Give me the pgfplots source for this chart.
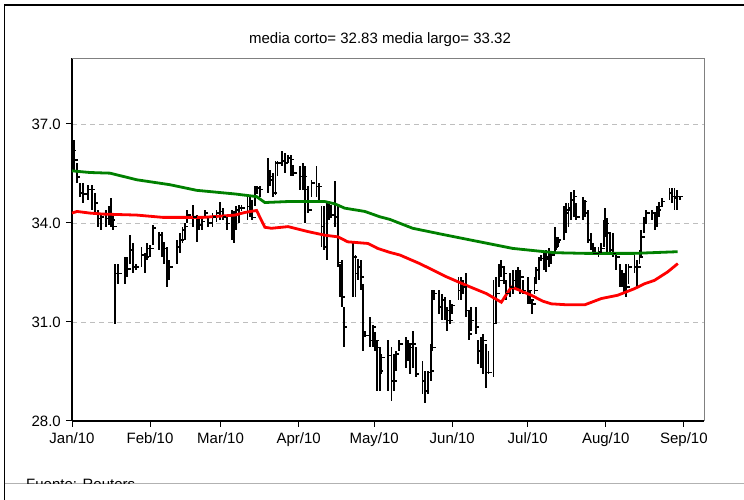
\documentclass[border=0pt]{standalone}
\usepackage{fontspec}
\setmainfont{Liberation Sans}
\usepackage{pgfplots}
\pgfplotsset{compat=1.18}
\usepackage{pgfplotstable}
\definecolor{magreen}{RGB}{0,128,0}
\definecolor{gridgray}{RGB}{190,190,190}
\pgfdeclareplotmark{closetick}{\pgfpathmoveto{\pgfpointorigin}\pgfpathlineto{\pgfpoint{3.5pt}{0pt}}\pgfusepathqstroke}

\pgfplotstableread{
d h l c
0.3 36.43 35.82 36.2
0.8 36.53 35.61 35.9
1.85 35.82 35.21 35.4
3.2 35.21 34.80 34.9
4.5 35.21 34.60 34.88
6.5 35.16 34.70 35.01
7.8 35.16 34.40 35.01
9.1 34.90 34.30 34.6
10.4 34.40 33.89 34.14
11.4 34.30 33.79 34.19
13.5 34.40 33.89 34.14
14.8 34.50 33.94 34.2
15.6 34.75 33.89 34.09
16.4 34.24 33.79 33.89
17.1 32.77 30.95 32.47
18.4 32.77 32.16 32.47
21.0 32.97 32.16 32.67
22.0 32.97 32.37 32.6
23.0 33.64 32.77 33.18
24.1 33.38 32.47 32.67
25.4 32.77 32.57 32.67
27.6 33.28 32.67 33.03
29.0 33.08 32.47 32.97
29.9 33.38 32.87 33.23
31.0 33.33 32.97 33.23
32.0 33.94 33.33 33.84
34.7 33.74 33.18 33.64
35.6 33.74 32.97 33.33
36.6 33.43 32.77 33.23
37.6 33.28 32.06 32.47
38.6 32.87 32.26 32.67
41.8 33.48 32.77 33.28
42.9 33.69 33.08 33.48
43.9 33.89 33.38 33.79
44.8 33.99 33.48 33.89
45.8 34.40 33.99 34.24
48.2 34.55 33.89 34.19
49.5 34.24 33.43 34.09
50.5 34.19 33.79 33.94
51.5 34.19 33.79 34.04
52.8 34.40 34.14 34.30
54.1 34.14 33.89 34.0
55.8 34.30 33.89 34.19
57.4 34.40 34.04 34.30
58.7 34.65 34.09 34.35
59.8 34.45 34.09 34.19
61.4 34.19 33.79 33.99
63.4 34.40 33.48 33.79
64.3 34.35 33.38 33.9
65.3 34.50 33.79 34.40
66.2 34.55 33.99 34.45
67.3 34.55 34.35 34.45
69.7 34.80 34.09 34.50
70.6 34.80 34.19 34.65
71.6 34.70 34.09 34.17
72.6 35.11 34.50 34.90
73.5 35.11 34.90 35.06
74.6 35.11 34.80 35.01
77.9 35.97 34.90 35.41
78.8 35.61 35.11 35.31
79.9 35.51 34.80 34.90
80.8 35.87 34.85 35.82
81.6 35.87 35.41 35.82
83.5 36.17 35.72 35.87
84.5 36.12 35.51 35.82
85.8 36.07 35.82 35.97
86.9 36.07 35.41 35.92
87.8 35.77 35.41 35.51
90.5 35.72 35.01 35.41
91.8 35.82 35.01 35.41
92.7 35.72 33.99 35.01
93.8 35.11 34.30 34.40
95.1 35.31 34.80 35.21
97.1 35.72 34.80 35.11
98.0 35.21 34.60 35.11
99.1 34.50 33.28 33.89
100.1 34.50 33.18 33.28
101.1 34.60 32.87 34.19
102.0 34.60 34.09 34.19
103.0 34.55 34.14 34.24
104.6 35.26 33.89 34.19
105.5 34.50 32.67 32.80
106.4 32.77 31.76 32.67
107.1 32.87 31.45 31.76
107.9 31.45 30.23 30.84
111.6 33.38 31.76 32.97
112.6 33.03 31.76 32.47
113.6 32.92 32.26 32.67
114.6 32.87 31.96 32.37
115.6 32.16 30.13 30.59
116.5 30.74 30.54 30.59
118.5 31.15 30.23 30.44
119.5 30.90 30.23 30.84
120.5 30.69 30.13 30.44
121.3 30.44 28.91 30.23
122.2 30.23 28.91 29.52
122.9 30.03 29.42 29.93
125.5 30.44 28.91 29.98
126.9 30.23 28.61 29.22
127.8 30.03 28.91 29.22
128.6 30.13 29.52 30.03
129.9 30.44 30.13 30.34
132.5 30.54 29.62 30.23
133.5 30.44 29.83 30.34
134.4 30.34 29.42 30.23
135.4 30.74 29.62 30.34
136.5 30.23 29.32 29.42
139.2 29.83 28.81 29.22
140.1 29.52 28.56 28.91
141.4 29.52 28.81 29.47
142.4 30.34 29.22 29.52
143.1 31.96 30.13 30.23
143.6 31.96 31.66 31.86
145.9 31.96 31.25 31.45
146.9 31.86 31.05 31.66
148.2 31.76 31.05 31.35
149.1 31.45 30.74 31.05
150.1 31.66 30.95 31.05
150.9 31.55 31.25 31.50
153.5 32.37 31.66 31.96
154.4 32.37 31.66 32.26
155.4 32.26 31.86 32.06
156.4 32.47 31.15 31.35
157.5 31.35 30.44 30.64
158.4 31.45 30.74 31.05
160.4 31.45 30.64 30.84
161.4 30.44 29.73 30.13
162.4 30.54 29.62 30.03
163.3 30.64 29.42 30.44
164.4 30.34 29.01 29.47
165.4 30.13 29.42 29.47
167.4 32.26 29.32 30.95
168.5 32.37 30.95 31.86
169.6 32.77 32.06 32.26
170.5 32.87 32.37 32.67
171.4 32.67 32.16 32.47
172.5 32.26 31.66 31.86
174.1 32.47 31.76 32.06
175.1 32.57 31.86 32.26
176.2 32.57 31.96 32.37
177.1 32.67 31.96 32.47
178.1 32.57 31.86 32.37
179.1 32.26 31.86 31.96
181.1 32.37 31.55 31.96
182.0 31.96 31.55 31.66
182.8 31.66 31.25 31.55
183.7 32.37 31.86 31.96
184.4 32.67 32.16 32.57
185.4 32.97 32.26 32.87
186.4 33.03 32.87 32.92
187.5 33.08 32.57 32.90
188.4 33.18 32.52 32.97
189.3 33.23 32.67 32.92
190.4 33.13 32.77 33.03
191.7 33.89 33.13 33.28
192.3 33.58 33.18 33.43
193.0 33.58 33.28 33.48
195.4 34.50 33.48 34.30
196.3 34.60 33.69 34.40
197.2 34.60 33.89 34.45
198.3 34.95 34.09 34.70
199.3 35.01 34.19 34.80
200.3 34.60 34.09 34.19
203.0 34.80 34.09 34.65
203.9 34.70 34.19 34.30
204.9 34.40 33.38 33.48
206.0 33.69 33.18 33.28
207.0 33.38 33.03 33.08
207.8 33.28 33.03 33.08
209.1 33.28 32.97 33.13
210.2 33.38 33.08 33.23
211.2 34.09 33.28 33.69
211.8 34.45 33.58 33.99
212.6 34.14 33.08 33.69
213.5 33.74 33.13 33.18
214.8 33.69 32.97 33.08
216.1 33.08 32.57 32.97
217.5 32.77 32.06 32.47
218.4 32.57 32.06 32.37
219.2 32.47 31.86 32.26
220.1 32.77 31.76 32.06
221.0 32.77 32.16 32.67
223.4 33.03 32.47 32.67
224.5 32.87 32.06 32.67
225.4 33.18 32.77 32.97
226.1 33.79 32.97 33.58
227.1 34.19 33.69 33.99
228.1 34.40 33.99 34.30
230.4 34.40 34.09 34.30
231.4 34.30 33.79 34.14
232.4 34.50 33.89 34.40
233.3 34.65 34.19 34.50
234.3 34.75 34.50 34.65
237.3 35.06 34.70 34.90
238.3 35.06 34.60 34.80
239.3 35.06 34.40 34.75
240.4 35.01 34.40 34.80
241.3 34.80 34.70 34.80
}\bars

\begin{document}
\fontsize{15}{18}\selectfont
\begin{tikzpicture}
\path[use as bounding box] (0pt,0pt) rectangle (744pt,500pt);
\draw[line width=1.5pt] (4.5pt,0pt) -- (4.5pt,495pt) -- (744pt,495pt);
\draw[gray!60, line width=1pt] (4.5pt,16pt) -- (744pt,16pt);
\begin{scope}
\clip (5pt,16.5pt) rectangle (744pt,500pt);
\node[anchor=base west, inner sep=0pt] at (26pt,10pt) {Fuente: Reuters};
\end{scope}
\node at (380pt,460pt) {media corto= 32.83 media largo= 33.32};
\begin{axis}[
  at={(72pt,79pt)}, anchor=south west,
  scale only axis, width=632pt, height=363pt,
  xmin=0, xmax=251, ymin=28, ymax=39,
  axis x line*=bottom, axis y line*=left,
  axis line style={black, line width=1.3pt},
  xtick={0,31,59,90,120,151,181,212,243},
  xticklabels={Jan/10,Feb/10,Mar/10,Apr/10,May/10,Jun/10,Jul/10,Aug/10,Sep/10},
  ytick={28,31,34,37},
  yticklabel style={/pgf/number format/.cd, fixed, fixed zerofill, precision=1},
  /pgf/number format/assume math mode=true,
  tick align=outside, major tick length=6pt,
  tick style={black, line width=1pt},
  ymajorgrids,
  grid style={gridgray, dash pattern=on 5pt off 4pt, line width=0.9pt},
  clip=false,
]
\draw[gray, line width=0.9pt] (rel axis cs:0,1) -- (rel axis cs:1,1) -- (rel axis cs:1,0);
\addplot[black, only marks, mark=closetick, mark options={line width=1.6pt},
  error bars/.cd, y dir=both, y explicit, error mark=none,
  error bar style={line width=1.9pt, black}]
  table[x=d, y=c, y error plus expr=\thisrow{h}-\thisrow{c}, y error minus expr=\thisrow{c}-\thisrow{l}] {\bars};
\addplot[magreen, line width=2.8pt] coordinates {
(0,35.58) (7.1,35.53) (15.1,35.51) (25.7,35.31) (38.9,35.16) (49.5,34.99)
(64.7,34.88) (73.3,34.80) (76.6,34.62) (85.7,34.65) (100.4,34.65) (104.4,34.58)
(108.3,34.45) (116.3,34.35) (122.2,34.19) (126.2,34.11) (135.3,33.84) (148.7,33.63)
(161.9,33.43) (175,33.23) (187.7,33.13) (191.7,33.10) (203.6,33.08) (223.4,33.08) (240.5,33.13)
};
\addplot[red, line width=2.8pt] coordinates {
(0,34.30) (2,34.35) (7.1,34.30) (12.3,34.27) (25.7,34.24) (36.1,34.17) (52,34.17)
(64.7,34.24) (68.7,34.32) (73.3,34.38) (76.6,33.87) (79.2,33.84) (85.8,33.89)
(93.7,33.74) (100.4,33.63) (105.6,33.58) (109.5,33.43) (117.5,33.38) (121.4,33.23)
(126.2,33.11) (130.2,33.03) (138.1,32.77) (148.7,32.37) (156.6,32.11) (164.6,31.86)
(170.5,31.60) (174.5,32.06) (177.8,31.96) (182.4,31.81) (187,31.63) (190.4,31.55)
(196.8,31.52) (203.6,31.52) (210.2,31.71) (216.7,31.81) (223.4,32.01) (227.4,32.16)
(231.3,32.26) (236.6,32.52) (240.6,32.77)
};
\end{axis}
\end{tikzpicture}
\end{document}
